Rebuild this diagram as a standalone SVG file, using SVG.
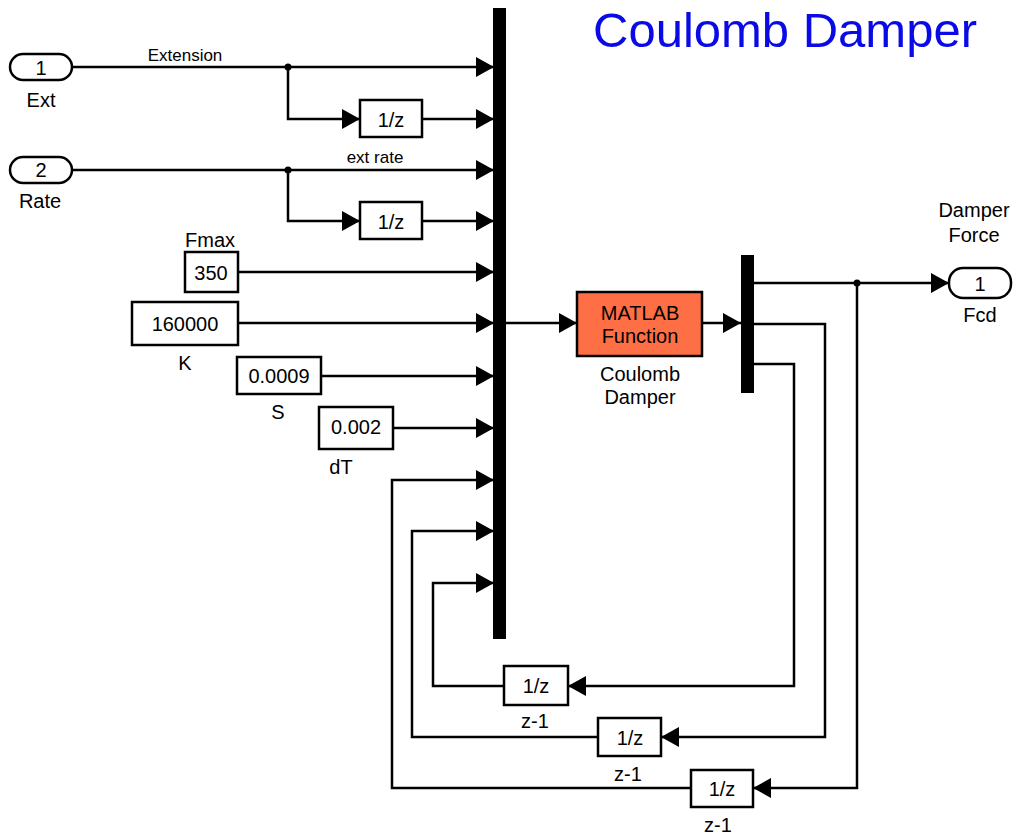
<svg xmlns="http://www.w3.org/2000/svg" width="1013" height="834" viewBox="0 0 1013 834">
<defs>
<marker id="arr" markerUnits="userSpaceOnUse" markerWidth="18" markerHeight="20" refX="18" refY="10" orient="auto">
<path d="M0,0 L18,10 L0,20 Z" fill="#000"/>
</marker>
<style>
text{font-family:"Liberation Sans",Arial,sans-serif;font-size:20px;fill:#000;text-anchor:middle}
.sm{font-size:17px}
.title{font-size:48px;fill:#0a0ae6;text-anchor:start}
.blk{fill:#fff;stroke:#000;stroke-width:2.5}
.fn{fill:#ff6f45;stroke:#000;stroke-width:2.5}
.bar{fill:#000}
.w{fill:none;stroke:#000;stroke-width:2.5}
.wa{fill:none;stroke:#000;stroke-width:2.5;marker-end:url(#arr)}
</style>
</defs>
<rect width="1013" height="834" fill="#fff"/>
<text class="title" x="593" y="47" textLength="384" lengthAdjust="spacingAndGlyphs">Coulomb Damper</text>

<g id="connectors">
<path class="wa" d="M72,67 H494"/>
<path class="wa" d="M288,67 V119 H360"/>
<path class="wa" d="M422,119 H494"/>
<path class="wa" d="M72,170 H494"/>
<path class="wa" d="M288,170 V221 H360"/>
<path class="wa" d="M422,221 H494"/>
<path class="wa" d="M238,272 H494"/>
<path class="wa" d="M238,323 H494"/>
<path class="wa" d="M321,376 H494"/>
<path class="wa" d="M393,428 H494"/>
<path class="wa" d="M691,788 H392 V480 H494"/>
<path class="wa" d="M598,737 H412 V531 H494"/>
<path class="wa" d="M504,686 H433 V583 H494"/>
<path class="wa" d="M506,323 H577"/>
<path class="wa" d="M702,323 H741"/>
<path class="wa" d="M754,283 H949"/>
<path class="wa" d="M857,283 V788 H753"/>
<path class="wa" d="M754,324 H825 V737 H661"/>
<path class="wa" d="M754,364 H794 V686 H568"/>
<circle cx="288" cy="67" r="3.5" fill="#000"/>
<circle cx="288" cy="170" r="3.5" fill="#000"/>
<circle cx="857" cy="283" r="3.5" fill="#000"/>
<text class="sm" x="185" y="61">Extension</text>
<text class="sm" x="375" y="163">ext rate</text>
</g>

<g id="ext">
<rect class="blk" x="10" y="54" width="62" height="26" rx="13"/>
<text x="41" y="75">1</text>
<text x="41" y="107">Ext</text>
</g>
<g id="rate">
<rect class="blk" x="10" y="157" width="62" height="26" rx="13"/>
<text x="41" y="177">2</text>
<text x="40" y="208">Rate</text>
</g>
<g id="delay1">
<rect class="blk" x="360" y="100" width="62" height="37"/>
<text x="391" y="127">1/z</text>
</g>
<g id="delay2">
<rect class="blk" x="360" y="202" width="62" height="37"/>
<text x="391" y="229">1/z</text>
</g>
<g id="fmax">
<rect class="blk" x="185" y="252" width="53" height="40"/>
<text x="211" y="280">350</text>
<text x="210" y="247">Fmax</text>
</g>
<g id="k">
<rect class="blk" x="132" y="302" width="106" height="43"/>
<text x="185" y="331">160000</text>
<text x="185" y="370">K</text>
</g>
<g id="s">
<rect class="blk" x="237" y="357" width="84" height="37"/>
<text x="279" y="383">0.0009</text>
<text x="278" y="419">S</text>
</g>
<g id="dt">
<rect class="blk" x="319" y="407" width="74" height="42"/>
<text x="356" y="434">0.002</text>
<text x="341" y="474">dT</text>
</g>
<g id="mux">
<rect class="bar" x="493" y="8" width="13" height="631"/>
</g>
<g id="fcn">
<rect class="fn" x="577" y="292" width="125" height="64"/>
<text x="640" y="320">MATLAB</text>
<text x="640" y="343">Function</text>
<text x="640" y="381">Coulomb</text>
<text x="640" y="404">Damper</text>
</g>
<g id="demux">
<rect class="bar" x="741" y="255" width="13" height="138"/>
</g>
<g id="fcd">
<rect class="blk" x="949" y="268" width="62" height="30" rx="14"/>
<text x="980" y="291">1</text>
<text x="980" y="322">Fcd</text>
<text x="974" y="217">Damper</text>
<text x="974" y="242">Force</text>
</g>
<g id="z1">
<rect class="blk" x="504" y="666" width="64" height="39"/>
<text x="536" y="693">1/z</text>
<text x="535" y="728">z-1</text>
</g>
<g id="z2">
<rect class="blk" x="598" y="718" width="63" height="38"/>
<text x="630" y="745">1/z</text>
<text x="628" y="781">z-1</text>
</g>
<g id="z3">
<rect class="blk" x="691" y="770" width="62" height="37"/>
<text x="722" y="796">1/z</text>
<text x="718" y="832">z-1</text>
</g>
</svg>
